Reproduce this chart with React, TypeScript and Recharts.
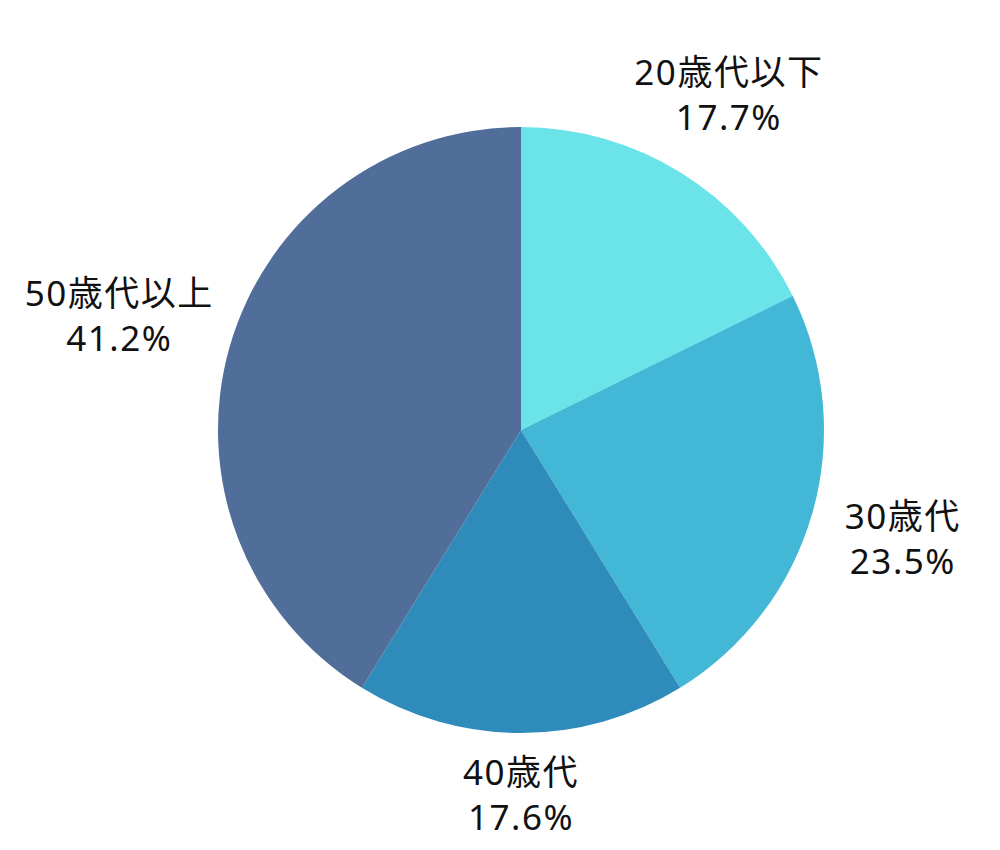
import React from "react";
import { PieChart, Pie, Cell } from "recharts";

const categories = ["20歳代以下", "30歳代", "40歳代", "50歳代以上"];
const shares = [17.7, 23.5, 17.6, 41.2];
const colors = ["#6BE4E9", "#43B7D6", "#2E8BBA", "#506E99"];

const data = categories.map((name, i) => ({ name, value: shares[i] }));

const FONT = "'Noto Sans', 'Noto Sans CJK JP', sans-serif";
const FS = 35;
const LINE = 45;

// rough text width so wide labels get pushed further out sideways
const textWidth = (s: string) =>
  [...s].reduce((w, ch) => w + (ch.charCodeAt(0) > 255 ? FS : FS * 0.6), 0);

const RADIAN = Math.PI / 180;

const renderLabel = (props: any) => {
  const { cx, cy, midAngle, outerRadius, name, value } = props;
  const sin = Math.sin(-midAngle * RADIAN);
  const cos = Math.cos(-midAngle * RADIAN);
  const pct = `${value.toFixed(1)}%`;
  const w = Math.max(textWidth(name), textWidth(pct));
  const r = outerRadius + 62 + 0.6 * Math.abs(cos) * (w / 2);
  const x = cx + r * cos;
  const y = cy + r * sin;
  return (
    <text
      x={x}
      y={y}
      textAnchor="middle"
      fill="#111"
      fontSize={FS}
      fontFamily={FONT}
      letterSpacing={1.5}
    >
      <tspan x={x} dy={-LINE / 2 + FS * 0.35}>{name}</tspan>
      <tspan x={x} dy={LINE}>{pct}</tspan>
    </text>
  );
};

export default function App() {
  return (
    <div style={{ position: "absolute", left: 0, top: 0, width: 1000, height: 850, background: "#fff" }}>
      <PieChart width={1000} height={850}>
        <Pie
          data={data}
          dataKey="value"
          nameKey="name"
          cx={516}
          cy={425}
          outerRadius={303}
          startAngle={90}
          endAngle={-270}
          stroke="none"
          label={renderLabel}
          labelLine={false}
          isAnimationActive={false}
        >
          {data.map((d, i) => (
            <Cell key={d.name} fill={colors[i]} />
          ))}
        </Pie>
      </PieChart>
    </div>
  );
}
